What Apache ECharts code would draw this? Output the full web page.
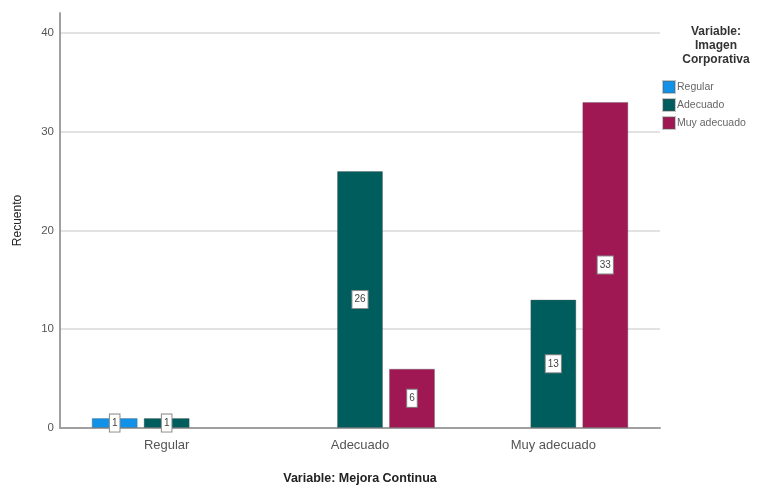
<!DOCTYPE html>
<html>
<head>
<meta charset="utf-8">
<script src="https://cdn.jsdelivr.net/npm/echarts@6/dist/echarts.min.js"></script>
<style>
  html, body { margin: 0; padding: 0; background: #fff; }
  #chart { width: 768px; height: 486px; }
</style>
</head>
<body>
<div id="chart"></div>
<script>
// Categories of "Mejora Continua" and counts per level of "Imagen Corporativa"
const categories = ['Regular', 'Adecuado', 'Muy adecuado'];
const seriesNames = ['Regular', 'Adecuado', 'Muy adecuado'];
const valuesRegular = [1, null, null];
const valuesAdecuado = [1, 26, 13];
const valuesMuyAdecuado = [null, 6, 33];
const yTicks = [0, 10, 20, 30, 40];

const colors = ['#1192e8', '#005d5d', '#9f1853'];
const font = 'Liberation Sans, Arial, sans-serif';

const chart = echarts.init(document.getElementById('chart'), null, { renderer: 'canvas' });

const valueLabel = {
  show: true,
  position: 'inside',
  backgroundColor: '#ffffff',
  borderColor: '#8a8a8a',
  borderWidth: 1,
  padding: [4, 2, 3, 2],
  fontSize: 10,
  color: '#444',
  fontFamily: font
};

function barSeries(name, data, color) {
  return {
    name: name,
    type: 'bar',
    xAxisIndex: 1,
    yAxisIndex: 1,
    data: data,
    barWidth: 46,
    barGap: '13%',
    itemStyle: { color: color, borderColor: 'rgba(90,90,90,0.35)', borderWidth: 1 },
    label: valueLabel
  };
}

chart.setOption({
  animation: false,
  textStyle: { fontFamily: font },
  title: {
    text: 'Variable:\nImagen\nCorporativa',
    left: 711,
    top: 20,
    textAlign: 'center',
    textStyle: { fontSize: 12, fontWeight: 'bold', color: '#333', lineHeight: 14, fontFamily: font }
  },
  legend: {
    orient: 'vertical',
    left: 662,
    top: 80,
    padding: 0,
    itemWidth: 12,
    itemHeight: 12,
    itemGap: 4,
    icon: 'rect',
    data: seriesNames,
    textStyle: { fontSize: 10.5, color: '#666', padding: [0, 0, 0, -3], fontFamily: font }
  },
  grid: [
    { left: 60, right: 108, top: 13, bottom: 58, outerBoundsMode: 'none', containLabel: false },
    { left: 70, right: 118, top: 13, bottom: 58, outerBoundsMode: 'none', containLabel: false }
  ],
  xAxis: [
    {
      type: 'category',
      gridIndex: 0,
      data: categories,
      axisLine: { show: true, lineStyle: { color: '#a0a0a0', width: 2 } },
      axisTick: { show: false },
      axisLabel: { show: false },
      splitLine: { show: false }
    },
    {
      type: 'category',
      gridIndex: 1,
      data: categories,
      axisLine: { show: false },
      axisTick: { show: false },
      axisLabel: { fontSize: 13, color: '#555', margin: 11, fontFamily: font },
      name: 'Variable: Mejora Continua',
      nameLocation: 'middle',
      nameGap: 44,
      nameTextStyle: { fontSize: 12.5, fontWeight: 'bold', color: '#222', fontFamily: font }
    }
  ],
  yAxis: [
    {
      type: 'value',
      gridIndex: 0,
      min: 0,
      max: 42,
      axisLine: { show: true, lineStyle: { color: '#a0a0a0', width: 2 } },
      axisTick: { show: false, customValues: yTicks },
      axisLabel: { customValues: yTicks, fontSize: 11.5, color: '#555', margin: 6, fontFamily: font },
      splitLine: { show: true, lineStyle: { color: '#e2e2e2', width: 2 } },
      name: 'Recuento',
      nameLocation: 'middle',
      nameGap: 36,
      nameTextStyle: { fontSize: 12, color: '#222', fontFamily: font }
    },
    {
      type: 'value',
      gridIndex: 1,
      min: 0,
      max: 42,
      show: false,
      splitLine: { show: false }
    }
  ],
  color: colors,
  series: [
    barSeries(seriesNames[0], valuesRegular, colors[0]),
    barSeries(seriesNames[1], valuesAdecuado, colors[1]),
    barSeries(seriesNames[2], valuesMuyAdecuado, colors[2])
  ]
});
</script>
</body>
</html>
